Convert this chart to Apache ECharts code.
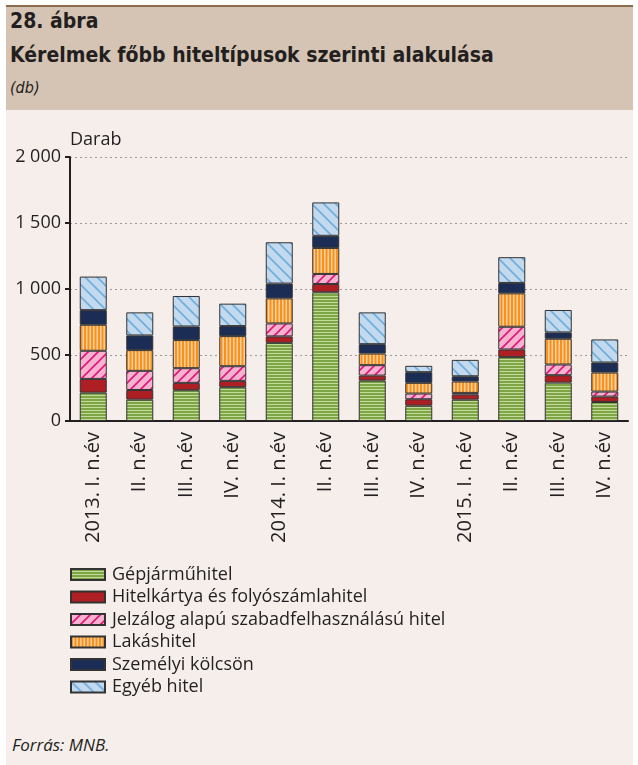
<!DOCTYPE html>
<html>
<head>
<meta charset="utf-8">
<script src="https://cdn.jsdelivr.net/npm/echarts@6/dist/echarts.min.js"></script>
<style>
  body { margin: 0; background: #fff; }
  .outer { position: absolute; left: 0; top: 0; width: 638px; height: 765px; overflow: hidden; }
  /* fejléc */
  .head {
    position: absolute; left: 6px; top: 5px; width: 627px; height: 103px;
    background: #d5c4b3; border-top: 2px solid #8b6c4c;
  }
  .panel { position: absolute; left: 6px; top: 110px; width: 627px; height: 655px; background: #f5eeeb; }
  .t1, .t2, .t3, .src { position: absolute; left: 10px; color: #231f20; white-space: nowrap; }
  .t1 { top: 9px; font: bold 21px "Liberation Sans Narrow", "DejaVu Sans Condensed", sans-serif; }
  .t2 { top: 43px; font: bold 21px "Liberation Sans Narrow", "DejaVu Sans Condensed", sans-serif; }
  .t3 { top: 78px; font: italic 16px "Liberation Sans Narrow", "DejaVu Sans Condensed", sans-serif; }
  .src { top: 733px; left: 12px; font: italic 17px "Open Sans", sans-serif; }
  #main { position: absolute; left: 0; top: 0; width: 638px; height: 765px; }
</style>
</head>
<body>
<div class="outer">
  <div class="head"></div>
  <div class="panel"></div>
  <div class="t1">28. ábra</div>
  <div class="t2">Kérelmek főbb hiteltípusok szerinti alakulása</div>
  <div class="t3">(db)</div>
  <div class="src">Forrás: MNB.</div>
  <div id="main"></div>
</div>
<script>
// negyedévek
var categories = ['2013. I. n.év', 'II. n.év', 'III. n.év', 'IV. n.év',
                  '2014. I. n.év', 'II. n.év', 'III. n.év', 'IV. n.év',
                  '2015. I. n.év', 'II. n.év', 'III. n.év', 'IV. n.év'];
// kérelmek száma (db), hiteltípusonként
var gepjarmu    = [215, 162, 233, 256, 592, 975, 306, 116, 162, 484, 291, 144];
var hitelkartya = [104,  73,  56,  48,  49,  63,  38,  49,  38,  58,  56,  41];
var jelzalog    = [213, 145, 111, 111,  98,  76,  79,  43,  13, 172,  81,  38];
var lakas       = [197, 157, 213, 228, 190, 197,  88,  81,  86, 253, 195, 144];
var szemelyi    = [111, 111, 103,  76, 112,  92,  71,  81,  40,  79,  48,  76];
var egyeb       = [254, 175, 231, 170, 313, 253, 241,  48, 124, 195, 170, 175];
var yTicks = [0, 500, 1000, 1500, 2000];

//mintázatok (vászon) a sávokhoz
function pattern(w, h, bg, draw) {
  var c = document.createElement('canvas');
  c.width = w; c.height = h;
  var ctx = c.getContext('2d');
  ctx.fillStyle = bg;
  ctx.fillRect(0, 0, w, h);
  draw(ctx, w, h);
  return { image: c, repeat: 'repeat' };
}
var greenFill = pattern(10, 3, '#7ea544', function (ctx, w) {
  ctx.fillStyle = '#c3da9c';
  ctx.fillRect(0, 2, w, 1);
});
var orangeFill = pattern(7, 10, '#f7921e', function (ctx, w, h) {
  ctx.fillStyle = '#fccf9c';
  ctx.fillRect(2, 0, 1.5, h);
  ctx.fillRect(5.5, 0, 1.5, h);
});
function diag(fg, lw, up) {
  return function (ctx, s) {
    ctx.strokeStyle = fg;
    ctx.lineWidth = lw;
    ctx.beginPath();
    if (up) {
      ctx.moveTo(-2, s + 2); ctx.lineTo(s + 2, -2);
      ctx.moveTo(-2, 2); ctx.lineTo(2, -2);
      ctx.moveTo(s - 2, s + 2); ctx.lineTo(s + 2, s - 2);
    } else {
      ctx.moveTo(-2, -2); ctx.lineTo(s + 2, s + 2);
      ctx.moveTo(-2, s - 2); ctx.lineTo(2, s + 2);
      ctx.moveTo(s - 2, -2); ctx.lineTo(s + 2, 2);
    }
    ctx.stroke();
  };
}
var pinkFill = pattern(10, 10, '#f6b3ce', diag('#e2157f', 1.6, true));
var blueFill = pattern(12, 12, '#c3d9ee', diag('#6eaddc', 1.6, false));

var chart = echarts.init(document.getElementById('main'));

function bar(name, data, fill) {
  return {
    name: name,
    type: 'bar',
    stack: 'total',
    barWidth: 27,
    data: data,
    itemStyle: { color: fill, borderColor: '#333', borderWidth: 1 }
  };
}

chart.setOption({
  animation: false,
  textStyle: { fontFamily: '"Open Sans", sans-serif', color: '#231f20' },
  grid: { left: 70, right: 10, top: 157, bottom: 344 },
  legend: {
    orient: 'vertical',
    left: 70,
    top: 565.5,
    padding: 0,
    icon: 'rect',
    itemWidth: 34,
    itemHeight: 11,
    itemGap: 4.5,
    textStyle: { fontSize: 18, lineHeight: 18, color: '#231f20', padding: [0, 0, 0, 2] },
    data: ['Gépjárműhitel', 'Hitelkártya és folyószámlahitel',
           'Jelzálog alapú szabadfelhasználású hitel', 'Lakáshitel',
           'Személyi kölcsön', 'Egyéb hitel']
  },
  xAxis: {
    type: 'category',
    data: categories,
    axisLine: { lineStyle: { color: '#231f20', width: 2 } },
    axisTick: { length: 6, interval: 0, lineStyle: { color: '#231f20', width: 2 } },
    axisLabel: { rotate: 90, interval: 0, fontSize: 20, margin: 11, color: '#231f20' }
  },
  yAxis: {
    type: 'value',
    min: yTicks[0],
    max: yTicks[yTicks.length - 1],
    interval: 500,
    name: 'Darab',
    nameLocation: 'end',
    nameGap: 8,
    nameTextStyle: { fontSize: 18, align: 'left', color: '#231f20' },
    axisLine: { show: true, lineStyle: { color: '#231f20', width: 2 } },
    axisTick: { show: true, length: 5, lineStyle: { color: '#231f20', width: 2 } },
    axisLabel: {
      fontSize: 18, margin: 9, color: '#231f20',
      formatter: function (v) { return String(v).replace(/\B(?=(\d{3})+(?!\d))/g, ' '); }
    },
    splitLine: { lineStyle: { color: '#9a9a9a', width: 1, type: [2, 3] } }
  },
  series: [
    bar('Gépjárműhitel', gepjarmu, greenFill),
    bar('Hitelkártya és folyószámlahitel', hitelkartya, '#ae1f24'),
    bar('Jelzálog alapú szabadfelhasználású hitel', jelzalog, pinkFill),
    bar('Lakáshitel', lakas, orangeFill),
    bar('Személyi kölcsön', szemelyi, '#1b2c55'),
    bar('Egyéb hitel', egyeb, blueFill)
  ]
});
</script>
</body>
</html>
